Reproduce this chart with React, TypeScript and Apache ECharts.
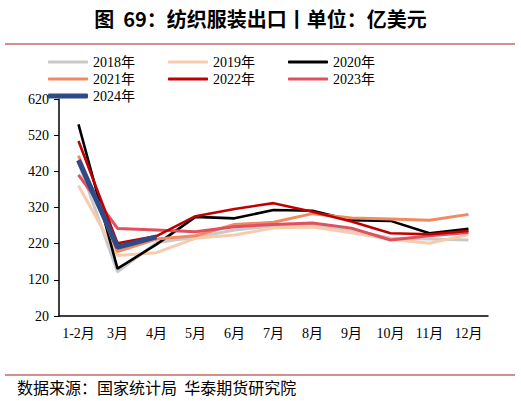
import React, { useEffect, useRef } from "react";
import * as echarts from "echarts";

const categories = ["1-2月", "3月", "4月", "5月", "6月", "7月", "8月", "9月", "10月", "11月", "12月"];
const seriesNames = ["2018年", "2019年", "2020年", "2021年", "2022年", "2023年", "2024年"];
const v2018 = [445, 142, 223, 238, 258, 269, 271, 258, 235, 233, 230];
const v2019 = [380, 187, 195, 235, 244, 263, 266, 250, 232, 221, 245];
const v2020 = [550, 151, 218, 294, 290, 313, 311, 285, 283, 249, 261];
const v2021 = [463, 198, 233, 242, 273, 279, 303, 291, 288, 285, 301];
const v2022 = [504, 221, 241, 296, 316, 332, 308, 281, 249, 246, 255];
const v2023 = [410, 262, 258, 253, 267, 273, 277, 263, 230, 242, 251];
const v2024 = [451, 210, 239];
const yTicks = { min: 20, max: 620, interval: 100 };
const titleText = "图  69：纺织服装出口丨单位：亿美元";
const sourceText = "数据来源：国家统计局  华泰期货研究院";

const colors = ["#c9c9c9", "#f8cbad", "#000000", "#f08a62", "#c00000", "#e0505f", "#2e4a87"];
const widths = [3, 3, 2.6, 3, 2.6, 3, 5];
const values = [v2018, v2019, v2020, v2021, v2022, v2023, v2024];

const SERIF = "'Liberation Serif', 'Times New Roman', 'Noto Sans CJK SC', serif";

export default function App() {
  const ref = useRef<HTMLDivElement>(null);
  useEffect(() => {
    document.body.style.margin = "0";
    const chart = echarts.init(ref.current!, null, { renderer: "svg" });
    const legends = seriesNames.map((name, i) => {
      const col = i % 3;
      const row = Math.floor(i / 3);
      return {
        data: [name],
        left: 43 + col * 120,
        top: 50 + row * 17,
        itemWidth: 40,
        itemHeight: i === 6 ? 5 : 3,
        itemGap: 4,
        icon: "roundRect",
        textStyle: { fontFamily: SERIF, fontSize: 14, color: "#000" },
        selectedMode: false,
      };
    });
    chart.setOption({
      animation: false,
      title: {
        text: titleText,
        left: "center",
        top: 3,
        textStyle: { fontFamily: "'Noto Sans CJK SC', sans-serif", fontSize: 20, fontWeight: "bold", color: "#000" },
      },
      legend: legends,
      grid: { left: 59, right: 33, top: 99, bottom: 85, containLabel: false },
      xAxis: {
        type: "category",
        data: categories,
        boundaryGap: true,
        axisLine: { lineStyle: { color: "#000", width: 1.5 } },
        axisTick: { show: false },
        axisLabel: { fontFamily: SERIF, fontSize: 14, color: "#000", margin: 10, interval: 0 },
        splitLine: { show: false },
      },
      yAxis: {
        type: "value",
        min: yTicks.min,
        max: yTicks.max,
        interval: yTicks.interval,
        axisLine: { show: true, lineStyle: { color: "#000", width: 1.5 } },
        axisTick: { show: true, length: 5, lineStyle: { color: "#000" } },
        axisLabel: { fontFamily: SERIF, fontSize: 14, color: "#000", margin: 10 },
        splitLine: { show: false },
      },
      graphic: [
        { type: "line", shape: { x1: 5, y1: 44, x2: 515, y2: 44 }, style: { stroke: "#c46a68", lineWidth: 1.5 } },
        { type: "line", shape: { x1: 5, y1: 375, x2: 515, y2: 375 }, style: { stroke: "#c46a68", lineWidth: 1.5 } },
        {
          type: "text",
          left: 17,
          top: 379,
          style: { text: sourceText, fontFamily: "'Noto Sans CJK SC', sans-serif", fontSize: 16, fill: "#000" },
        },
      ],
      series: seriesNames.map((name, i) => ({
        name,
        type: "line",
        data: values[i],
        showSymbol: false,
        symbol: "none",
        color: colors[i],
        lineStyle: { color: colors[i], width: widths[i] },
        z: i === 6 ? 8 : i === 4 ? 7 : 2 + i * 0.1,
      })),
    });
    return () => chart.dispose();
  }, []);
  return <div ref={ref} style={{ width: 521, height: 401 }} />;
}
